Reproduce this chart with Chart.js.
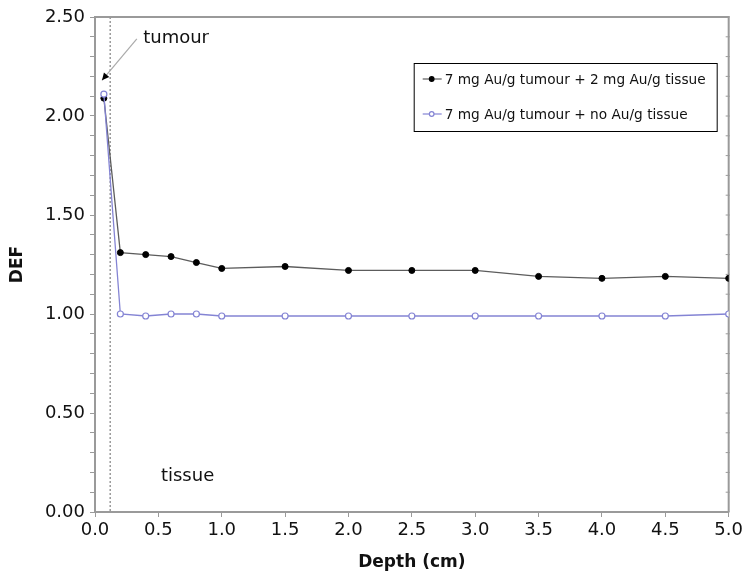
<!DOCTYPE html>
<html>
<head>
<meta charset="utf-8">
<script src="https://cdn.jsdelivr.net/npm/chart.js@4.4.0/dist/chart.umd.min.js"></script>
<style>
  html, body { margin: 0; padding: 0; background: #fff; }
  #wrap { width: 746px; height: 575px; }
</style>
</head>
<body>
<div id="wrap"><canvas id="chart" width="746" height="575"></canvas></div>
<script>
// values
const depthCm = [0.07, 0.2, 0.4, 0.6, 0.8, 1.0, 1.5, 2.0, 2.5, 3.0, 3.5, 4.0, 4.5, 5.0];
const defGoldTissue = [2.09, 1.31, 1.30, 1.29, 1.26, 1.23, 1.24, 1.22, 1.22, 1.22, 1.19, 1.18, 1.19, 1.18];
const defNoGoldTissue = [2.11, 1.00, 0.99, 1.00, 1.00, 0.99, 0.99, 0.99, 0.99, 0.99, 0.99, 0.99, 0.99, 1.00];
const seriesLabels = ['7 mg Au/g tumour + 2 mg Au/g tissue', '7 mg Au/g tumour + no Au/g tissue'];
const xTickLabels = ['0.0', '0.5', '1.0', '1.5', '2.0', '2.5', '3.0', '3.5', '4.0', '4.5', '5.0'];
const yTickLabels = ['0.00', '0.50', '1.00', '1.50', '2.00', '2.50'];
const tumourEdge = 0.12;

const FONT = 'DejaVu Sans';
const AXIS = '#9a9a9a';

function pts(ys){
    return depthCm.map((x, i) => ({x: x, y: ys[i]}));
}

// frame, tumour boundary, labels, arrow and boxed legend
const extras = {
    id: 'extras',
    beforeDatasetsDraw(chart){
        const {ctx, chartArea: a, scales: {x, y}} = chart;
        ctx.save();
        ctx.strokeStyle = AXIS;
        ctx.lineWidth = 1.5;
        ctx.setLineDash([2, 2]);
        const bx = x.getPixelForValue(tumourEdge);
        ctx.beginPath(); ctx.moveTo(bx, a.top); ctx.lineTo(bx, a.bottom); ctx.stroke();
        ctx.setLineDash([]);
        // top and right frame
        ctx.lineWidth = 2;
        ctx.beginPath();
        ctx.moveTo(a.left, a.top); ctx.lineTo(a.right, a.top); ctx.lineTo(a.right, a.bottom);
        ctx.stroke();
        // small ticks on the right side
        ctx.lineWidth = 1;
        y.ticks.forEach(t => {
            const py = y.getPixelForValue(t.value);
            ctx.beginPath(); ctx.moveTo(a.right - 3, py); ctx.lineTo(a.right + 1, py); ctx.stroke();
        });
        ctx.restore();
    },
    afterDatasetsDraw(chart){
        const {ctx, chartArea: a, scales: {x, y}} = chart;
        ctx.save();
        ctx.fillStyle = '#111';
        ctx.font = '18px "' + FONT + '"';
        ctx.textBaseline = 'middle';
        ctx.fillText('tumour', x.getPixelForValue(0.38), y.getPixelForValue(2.39));
        ctx.fillText('tissue', x.getPixelForValue(0.52), y.getPixelForValue(0.18));

        // leader arrow
        const x0 = x.getPixelForValue(0.33), y0 = y.getPixelForValue(2.39);
        const x1 = x.getPixelForValue(0.055), y1 = y.getPixelForValue(2.18);
        ctx.strokeStyle = '#aaa';
        ctx.lineWidth = 1.2;
        ctx.beginPath(); ctx.moveTo(x0, y0); ctx.lineTo(x1, y1); ctx.stroke();
        const ang = Math.atan2(y1 - y0, x1 - x0);
        ctx.fillStyle = '#000';
        ctx.beginPath();
        ctx.moveTo(x1, y1);
        ctx.lineTo(x1 - 8 * Math.cos(ang - 0.45), y1 - 8 * Math.sin(ang - 0.45));
        ctx.lineTo(x1 - 8 * Math.cos(ang + 0.45), y1 - 8 * Math.sin(ang + 0.45));
        ctx.closePath(); ctx.fill();

        // legend box
        ctx.font = '13.7px "' + FONT + '"';
        let tw = 0;
        seriesLabels.forEach(s => { tw = Math.max(tw, ctx.measureText(s).width); });
        const bw = 31 + tw + 11, bh = 68;
        const right = a.right - 12, top = a.top + 46;
        const left = right - bw;
        ctx.fillStyle = '#fff';
        ctx.fillRect(left, top, bw, bh);
        ctx.strokeStyle = '#000';
        ctx.lineWidth = 1;
        ctx.strokeRect(left + 0.5, top + 0.5, bw, bh);
        chart.data.datasets.forEach((ds, i) => {
            const cy = top + 16 + i * 35;
            ctx.strokeStyle = ds.borderColor;
            ctx.lineWidth = 1.2;
            ctx.beginPath(); ctx.moveTo(left + 9, cy); ctx.lineTo(left + 28, cy); ctx.stroke();
            ctx.beginPath(); ctx.arc(left + 18, cy, 2.3, 0, Math.PI * 2);
            ctx.fillStyle = ds.pointBackgroundColor; ctx.fill();
            ctx.strokeStyle = ds.pointBorderColor; ctx.stroke();
            ctx.fillStyle = '#111';
            ctx.fillText(seriesLabels[i], left + 31, cy + 1);
        });
        ctx.restore();
    }
};

const ctx1 = document.getElementById('chart').getContext('2d');
const chart = new Chart(ctx1, {
    type: 'scatter',
    data: {
        datasets: [{
            label: seriesLabels[0],
            data: pts(defGoldTissue),
            showLine: true,
            borderColor: '#5c5c5c',
            borderWidth: 1.3,
            pointRadius: 3,
            pointBackgroundColor: '#000',
            pointBorderColor: '#000',
            pointBorderWidth: 1,
            order: 1
        }, {
            label: seriesLabels[1],
            data: pts(defNoGoldTissue),
            showLine: true,
            borderColor: '#8484d4',
            borderWidth: 1.3,
            pointRadius: 3,
            pointBackgroundColor: '#fff',
            pointBorderColor: '#8484d4',
            pointBorderWidth: 1.2,
            order: 0
        }]
    },
    options: {
        responsive: false,
        animation: false,
        layout: { padding: { top: 17, right: 16, left: 0, bottom: 0 } },
        plugins: { legend: { display: false }, tooltip: { enabled: false } },
        scales: {
            x: {
                type: 'linear',
                min: 0, max: 5,
                afterFit: s => { s.height = 63; },
                border: { color: AXIS, width: 2 },
                grid: { drawOnChartArea: false, color: AXIS, tickLength: 5 },
                ticks: {
                    stepSize: 0.5,
                    padding: 3,
                    color: '#111',
                    font: { family: FONT, size: 18 },
                    maxRotation: 0,
                    callback: (v) => {
                        const k = Math.round(v / 0.5);
                        return xTickLabels[k] !== undefined ? xTickLabels[k] : '';
                    }
                },
                title: {
                    display: true, text: 'Depth (cm)', color: '#111',
                    font: { family: FONT, size: 17, weight: 'bold' },
                    padding: { top: 0, bottom: 2 }
                }
            },
            y: {
                min: 0, max: 2.5,
                afterFit: s => { s.width = 95; },
                border: { color: AXIS, width: 2 },
                grid: { drawOnChartArea: false, color: AXIS, tickLength: 5 },
                ticks: {
                    stepSize: 0.1,
                    padding: 5,
                    color: '#111',
                    font: { family: FONT, size: 18 },
                    autoSkip: false,
                    callback: (v) => {
                        const k = Math.round(v / 0.5);
                        return Math.abs(v - k * 0.5) < 1e-6 ? yTickLabels[k] : '';
                    }
                },
                title: {
                    display: true, text: 'DEF', color: '#111',
                    font: { family: FONT, size: 17, weight: 'bold' },
                    padding: { top: 7, bottom: 0 }
                }
            }
        }
    },
    plugins: [extras]
});
</script>
</body>
</html>
